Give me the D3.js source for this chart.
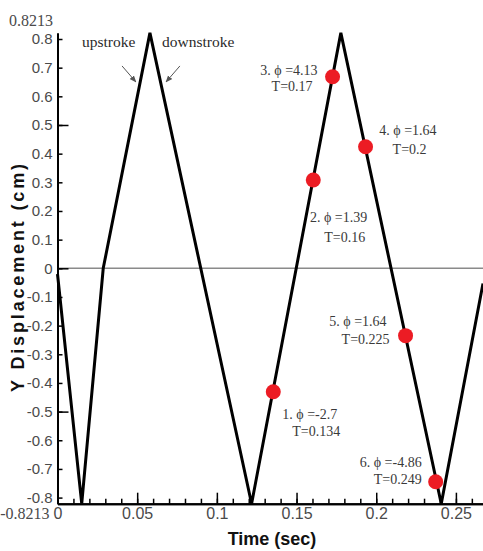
<!DOCTYPE html>
<html>
<head>
<meta charset="utf-8">
<script src="https://cdn.jsdelivr.net/npm/d3@7"></script>
<style>
  html, body { margin: 0; padding: 0; background: #fff; }
  svg { display: block; }
</style>
</head>
<body>
<div id="chart"></div>
<script>
// Flapping stroke: Y displacement of the wing over time (triangle wave)
const waveTime = [0, 0.0152, 0.0287, 0.0580, 0.1218, 0.1778, 0.2408, 0.267];
const waveDisp = [-0.02, -0.8213, 0, 0.8213, -0.8213, 0.8213, -0.8213, -0.053];

// Sampled instants marked on the stroke
const markTime = [0.1354, 0.1605, 0.1726, 0.1933, 0.2184, 0.2373];
const markDisp = [-0.4306, 0.308, 0.6685, 0.4243, -0.235, -0.7446];
const markIndex = ["1", "2", "3", "4", "5", "6"];
const markPhi = ["-2.7", "1.39", "4.13", "1.64", "1.64", "-4.86"];
const markT = ["0.134", "0.16", "0.17", "0.2", "0.225", "0.249"];

// Axis ticks
const xTicks = [0, 0.05, 0.1, 0.15, 0.2, 0.25];
const xTickLabels = ["0", "0.05", "0.1", "0.15", "0.2", "0.25"];
const yTicks = [-0.8, -0.7, -0.6, -0.5, -0.4, -0.3, -0.2, -0.1, 0, 0.1, 0.2, 0.3, 0.4, 0.5, 0.6, 0.7, 0.8];
const yTickLabels = ["-0.8", "-0.7", "-0.6", "-0.5", "-0.4", "-0.3", "-0.2", "-0.1", "0", "0.1", "0.2", "0.3", "0.4", "0.5", "0.6", "0.7", "0.8"];
const yMajor = [-0.5, 0, 0.5];
const yLimit = 0.8213;
const yLimitLabels = ["-0.8213", "0.8213"];

const W = 483, H = 551;
const svg = d3.select("#chart").append("svg").attr("width", W).attr("height", H);

const x = d3.scaleLinear().domain([0, 0.267]).range([57.5, 483]);
const y = d3.scaleLinear().domain([-yLimit, yLimit]).range([503.7, 32.9]);

const tickFont = "'Liberation Sans', Arial, sans-serif";
const serif = "'Liberation Serif', 'Times New Roman', serif";

// zero reference line
svg.append("line")
  .attr("x1", x(0)).attr("x2", x(0.267))
  .attr("y1", y(0)).attr("y2", y(0))
  .attr("stroke", "#8a8a8a").attr("stroke-width", 1.6);

// x axis: minor ticks every 0.01, major every 0.05 (pointing into the plot)
const xMinor = d3.range(0, 0.2671, 0.01);
const gxMinor = svg.append("g").attr("transform", `translate(0,${y(-yLimit)})`)
  .call(d3.axisBottom(x).tickValues(xMinor).tickSizeInner(-5).tickSizeOuter(0).tickFormat(""));
const gxMajor = svg.append("g").attr("transform", `translate(0,${y(-yLimit)})`)
  .call(d3.axisBottom(x).tickValues(xTicks).tickSizeInner(-11).tickSizeOuter(0).tickPadding(4)
    .tickFormat((d, i) => xTickLabels[i]));

// y axis: minor ticks with labels every 0.1, major ticks at 0.5 steps
const gyMinor = svg.append("g").attr("transform", `translate(${x(0)},0)`)
  .call(d3.axisLeft(y).tickValues(yTicks).tickSizeInner(-5).tickSizeOuter(0).tickPadding(5)
    .tickFormat((d, i) => yTickLabels[i]));
const gyMajor = svg.append("g").attr("transform", `translate(${x(0)},0)`)
  .call(d3.axisLeft(y).tickValues(yMajor).tickSizeInner(-11).tickSizeOuter(0).tickFormat(""));

[gxMinor, gxMajor, gyMinor, gyMajor].forEach(g => {
  g.select(".domain").attr("stroke", "#000").attr("stroke-width", 2);
  g.selectAll(".tick line").attr("stroke", "#000").attr("stroke-width", 1.5);
  g.selectAll(".tick text").attr("fill", "#4a4a4a").attr("font-family", tickFont);
});
gxMajor.selectAll(".tick text").attr("font-size", 16);
gyMinor.selectAll(".tick text").attr("font-size", 15);

// axis extent labels
svg.append("text").text(yLimitLabels[1])
  .attr("x", x(0) - 4.5).attr("y", y(yLimit) - 7)
  .attr("text-anchor", "end").attr("font-family", serif).attr("font-size", 16).attr("fill", "#4a4a4a");
svg.append("text").text(yLimitLabels[0])
  .attr("x", x(0) - 8).attr("y", y(-yLimit) + 15)
  .attr("text-anchor", "end").attr("font-family", serif).attr("font-size", 16).attr("fill", "#4a4a4a");

// axis titles
svg.append("text").text("Time (sec)")
  .attr("x", 272).attr("y", 545)
  .attr("text-anchor", "middle").attr("font-family", tickFont)
  .attr("font-weight", "bold").attr("font-size", 18).attr("fill", "#111");
svg.append("text").text("Y Displacement (cm)")
  .attr("transform", "translate(24,278) rotate(-90)")
  .attr("text-anchor", "middle").attr("font-family", tickFont)
  .attr("font-weight", "bold").attr("font-size", 18).attr("fill", "#111")
  .attr("textLength", 228).attr("lengthAdjust", "spacing");

// stroke trace
const wave = waveTime.map((t, i) => [t, waveDisp[i]]);
svg.append("path")
  .datum(wave)
  .attr("d", d3.line().x(d => x(d[0])).y(d => y(d[1])))
  .attr("fill", "none").attr("stroke", "#000").attr("stroke-width", 3)
  .attr("stroke-linejoin", "miter");

// sampled instants
const marks = markTime.map((t, i) => ({t, v: markDisp[i], n: markIndex[i], phi: markPhi[i], T: markT[i]}));
svg.append("g").selectAll("circle").data(marks).join("circle")
  .attr("cx", d => x(d.t)).attr("cy", d => y(d.v)).attr("r", 7.5)
  .attr("fill", "#ec1c24");

// label layout: offsets (px) of each line's right end / baseline from its mark
const labelOffset = [
  [[64, 27], [67, 44]],
  [[54, 42], [52, 62]],
  [[-15, -2], [-20, 14]],
  [[71, -12], [61, 7]],
  [[-19, -10], [-16, 8]],
  [[-14, -15], [-14, 2]]
];
const labels = svg.append("g").attr("font-family", serif).attr("font-size", 14).attr("fill", "#3a3a3a")
  .attr("text-anchor", "end");
marks.forEach((d, i) => {
  const cx = x(d.t), cy = y(d.v);
  const [o1, o2] = labelOffset[i];
  labels.append("text").attr("x", cx + o1[0]).attr("y", cy + o1[1])
    .text(d.n + ". \u03d5 =" + d.phi);
  labels.append("text").attr("x", cx + o2[0]).attr("y", cy + o2[1]).text("T=" + d.T);
});

// stroke phase annotations with arrows
const defs = svg.append("defs");
defs.append("marker").attr("id", "arrowhead")
  .attr("viewBox", "0 0 10 10").attr("refX", 9).attr("refY", 5)
  .attr("markerWidth", 7).attr("markerHeight", 7).attr("orient", "auto")
  .append("path").attr("d", "M0,1 L10,5 L0,9 Z").attr("fill", "#555");

const notes = [
  {text: "upstroke", at: [0.0154, 0.772], from: [0.0405, 0.706], to: [0.0492, 0.650]},
  {text: "downstroke", at: [0.0656, 0.772], from: [0.0768, 0.706], to: [0.0681, 0.650]}
];
notes.forEach(n => {
  svg.append("text").text(n.text)
    .attr("x", x(n.at[0])).attr("y", y(n.at[1]))
    .attr("font-family", serif).attr("font-size", 15.5).attr("fill", "#2a2a2a");
  svg.append("line")
    .attr("x1", x(n.from[0])).attr("y1", y(n.from[1]))
    .attr("x2", x(n.to[0])).attr("y2", y(n.to[1]))
    .attr("stroke", "#555").attr("stroke-width", 1)
    .attr("marker-end", "url(#arrowhead)");
});
</script>
</body>
</html>
